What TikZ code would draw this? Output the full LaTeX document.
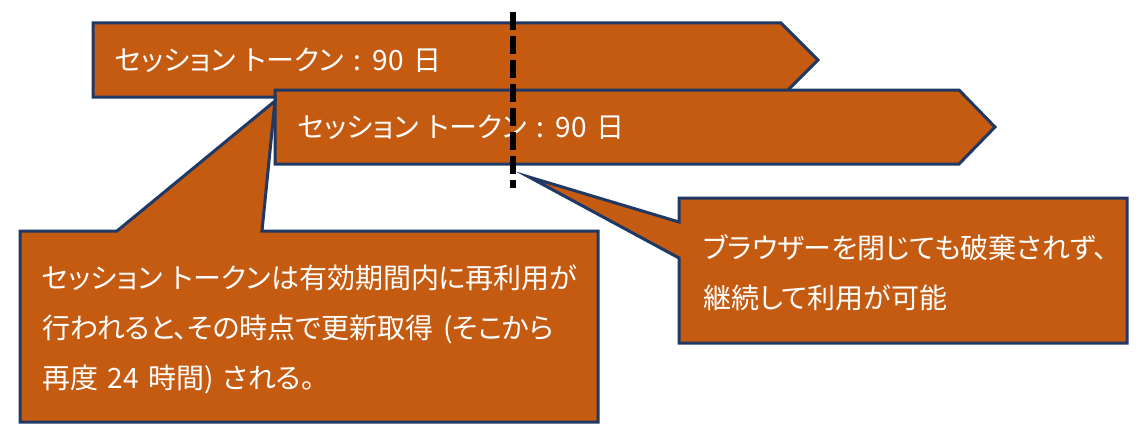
\documentclass[tikz,border=0pt]{standalone}
\usepackage{fontspec}
\newfontfamily\jpfont[RawFeature=+palt, WordSpace=1.5]{Noto Sans CJK JP}
\definecolor{tokenorange}{RGB}{197,90,17}
\definecolor{edgenavy}{RGB}{31,56,100}
\def\edgew{3pt}
\tikzset{tokenbox/.style={fill=tokenorange, draw=edgenavy, line width=\edgew}}
\tikzset{boxtext/.style={text=white, font=\jpfont\fontsize{28}{50}\selectfont, inner sep=0pt, anchor=west, align=left}}
\tikzset{cutline/.style={line width=6pt, black, dash pattern=on 18pt off 6pt}}

\begin{document}
\begin{tikzpicture}[x=1pt, y=-1pt]
        \useasboundingbox (0,0) rectangle (1138,444);
        % Token arrows
        \draw[tokenbox] (93,23) -- (781,23) -- (818,60) -- (781,97) -- (93,97) -- cycle;
        \node[boxtext] (first) at (115,60) {セッション トークン : 90 日};
        \draw[tokenbox] (275,90) -- (959,90) -- (995,127) -- (959,164) -- (275,164) -- cycle;
        \node[boxtext] (second) at (298,127) {セッション トークン : 90 日};
        % Cut line
        \draw[cutline] (513,12) -- (513,188);
        % Callouts
        \draw[tokenbox] (20,231) -- (117,231) -- (275,101) -- (262,231) -- (598,231)
          -- (598,422) -- (20,422) -- cycle;
        \node[boxtext] (renew) at (42,329) {セッション トークンは有効期間内に再利用が\\
          行われると、その時点で更新取得 (そこから\\再度 24 時間) される。};
        \draw[tokenbox] (679,198) -- (1127,198) -- (1127,343) -- (679,343) -- (679,258)
          -- (529,177) -- (679,222) -- cycle;
        \node[boxtext] (keep) at (703,273) {ブラウザーを閉じても破棄されず、\\継続して利用が可能};
        \end{tikzpicture}
\end{document}
